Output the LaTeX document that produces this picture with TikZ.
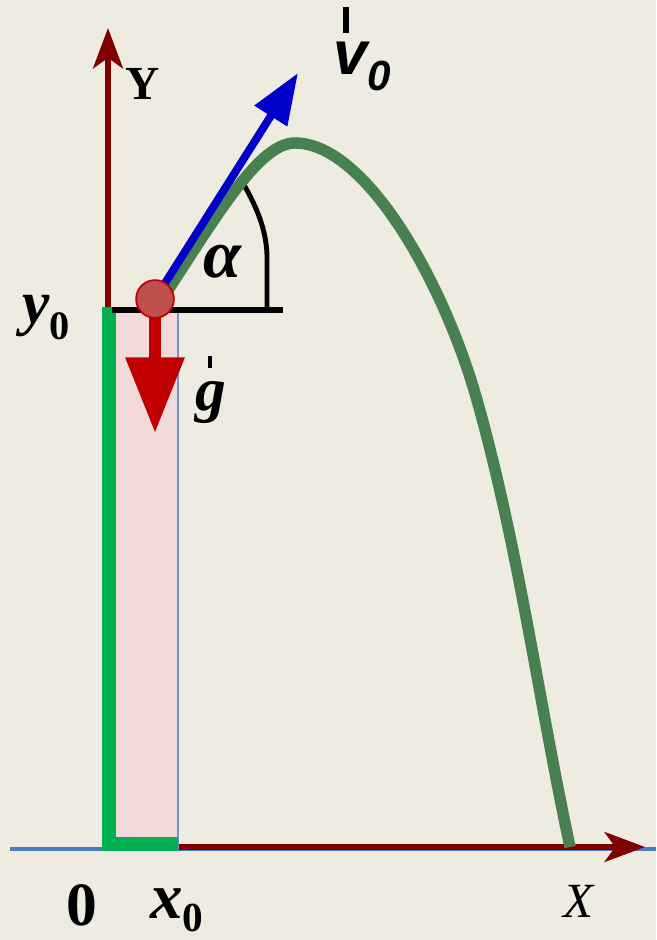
\documentclass[tikz,border=0pt]{standalone}
\usepackage{fontspec}
\setmainfont{Liberation Serif}
\newfontfamily\sansv{Liberation Sans}
\usetikzlibrary{arrows.meta}

\definecolor{paper}{RGB}{238,235,224}
\definecolor{axisred}{RGB}{128,0,0}
\definecolor{groundblue}{RGB}{75,125,190}
\definecolor{wallgreen}{RGB}{0,176,80}
\definecolor{pathgreen}{RGB}{72,128,82}
\definecolor{towerpink}{RGB}{242,218,218}
\definecolor{vblue}{RGB}{0,0,200}
\definecolor{gred}{RGB}{192,0,0}
\definecolor{ballfill}{RGB}{192,80,77}

\newcommand{\fs}[1]{\fontsize{#1}{#1}\selectfont}
\newcommand{\lowzero}[2]{\raisebox{-#1}{\fs{#2}0}}

\begin{document}
\begin{tikzpicture}[x=0.02cm, y=-0.02cm,
		axis/.style={axisred, line width=3pt, -{Stealth[length=23pt,width=17pt,inset=6pt]}},
		lbl/.style={inner sep=0pt, outer sep=0pt},
		bar/.style={fill=black, inner sep=0pt, minimum width=#1}]
			\fill[paper] (0,0) rectangle (656,940);
			\useasboundingbox (0,0) rectangle (656,940);
		%% ground, tower and wall
			\draw[groundblue, line width=2.3pt] (10,849) -- (656,849);
			\filldraw[fill=towerpink, draw=groundblue!80, line width=0.6pt] (115,308) rectangle (178,848);
			\draw[wallgreen, line width=8pt] (109,307) -- (109,844) -- (178,844);
		%% axes
			\coordinate (Ybot) at (108,307);
			\coordinate (Ytip) at (108,28);
			\coordinate (Xbot) at (179,847);
			\coordinate (Xtip) at (645,847);
			\draw[axis] (Ybot) -- (Ytip);
			\draw[axis] (Xbot) -- (Xtip);
		%% horizon and angle
			\coordinate (hL) at (112,310);
			\coordinate (hR) at (283,310);
			\draw[line width=3.4pt] (hL) -- (hR);
			\draw[line width=2.8pt] (267,309) -- (267,255) .. controls (266,228) and (256,205) .. (240,178);
		%% trajectory
			\draw[pathgreen, line width=6.5pt] (163,298) .. controls (220,210) and (260,143) .. (295,143)
				.. controls (365,143) and (443,280) .. (477,400)
				.. controls (519,550) and (538,697) .. (570,847);
		%% launch velocity and gravity
			\coordinate (launch) at (155,299);
			\coordinate (vtip) at (298,73);
			\coordinate (gtip) at (155,433);
			\draw[vblue, line width=4.5pt, -{Triangle[length=29pt,width=21pt]}] (launch) -- (vtip);
			\draw[gred, line width=6.8pt, -{Triangle[length=43pt,width=32pt]}] (launch) -- (gtip);
			\node[draw=gred, fill=ballfill, circle, line width=1pt, minimum size=21.5pt, inner sep=0pt]
				(ball) at (launch) {};
		%% labels
			\node[lbl, anchor=base] (lblY) at (143,99) {\fs{27}\bfseries Y};
			\node[lbl, anchor=base] (lblX) at (579,917) {\fs{28}\itshape X};
			\node[lbl, anchor=base] (lblO) at (82,925) {\fs{35}\bfseries 0};
			\node[lbl, anchor=base west] (lblx) at (150,918) {{\fs{37}\bfseries\itshape x}{\bfseries\lowzero{7.5pt}{23.5}}};
			\node[lbl, anchor=base west] (lbly) at (22,323) {{\fs{35}\bfseries\itshape y}{\bfseries\lowzero{9.4pt}{23}}};
			\node[lbl, anchor=base] (lblalpha) at (222,277) {\fs{39}\bfseries\itshape α};
			\node[lbl, anchor=base] (lblg) at (211,410) {\fs{35}\bfseries\itshape g};
			\node[lbl, anchor=base west] (lblv) at (333,74) {\sansv{\fs{35}\bfseries\itshape v}{\itshape\bfseries\lowzero{9.6pt}{24}}};
			\node[bar=2.8pt, minimum height=7pt] (gbar) at (210,362) {};
			\node[bar=3.4pt, minimum height=14.7pt] (vbar) at (346,20) {};
		\end{tikzpicture}
\end{document}
